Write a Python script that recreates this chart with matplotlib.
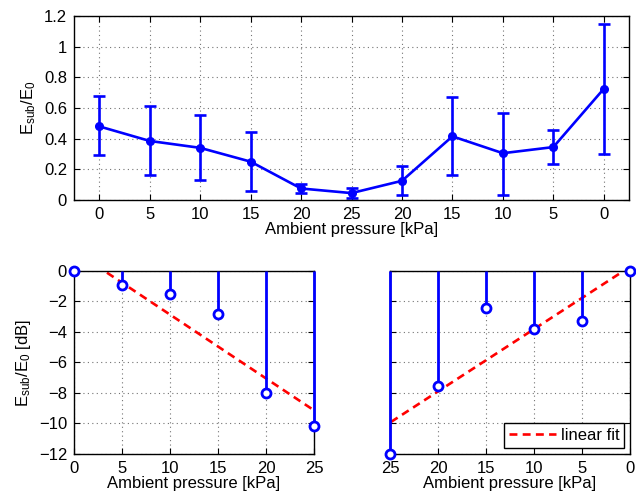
import numpy as np
import matplotlib
matplotlib.use("Agg")
import matplotlib.pyplot as plt

plt.rcParams["font.family"] = ["Liberation Sans", "DejaVu Sans"]
plt.rcParams["mathtext.fontset"] = "custom"
plt.rcParams["mathtext.rm"] = "Liberation Sans"
plt.rcParams["font.size"] = 12

# top panel: pressure sequence down and back up
seq_labels = ["0", "5", "10", "15", "20", "25", "20", "15", "10", "5", "0"]
ratio_mean = [0.48, 0.385, 0.34, 0.25, 0.075, 0.045, 0.125, 0.415, 0.305, 0.345, 0.725]
ratio_hi = [0.675, 0.615, 0.553, 0.443, 0.105, 0.08, 0.22, 0.67, 0.57, 0.455, 1.15]
ratio_lo = [0.295, 0.16, 0.13, 0.06, 0.045, 0.01, 0.03, 0.16, 0.035, 0.235, 0.30]

# bottom panels: dB values
p_down = [0, 5, 10, 15, 20, 25]
db_down = [0, -0.95, -1.5, -2.85, -8.0, -10.15]
p_up = [25, 20, 15, 10, 5, 0]
db_up = [-12.0, -7.55, -2.4, -3.8, -3.25, 0]

BLUE = (0, 0, 1)
RED = (1, 0, 0)

fig = plt.figure(figsize=(6.36, 4.96), dpi=100)
ax_top = fig.add_axes([0.1164, 0.5968, 0.8726, 0.371])
ax_bl = fig.add_axes([0.1164, 0.0847, 0.3774, 0.369])
ax_br = fig.add_axes([0.6132, 0.0847, 0.3774, 0.369])


def style(ax):
    ax.grid(True, linestyle=(0, (1, 3)), color="0.45", linewidth=0.8)
    ax.tick_params(direction="in", length=4, width=0.8, top=True, right=True,
                   colors="black", pad=5)
    for s in ax.spines.values():
        s.set_linewidth(1.0)
    ax.set_axisbelow(True)


# top
xpos = np.arange(1, len(seq_labels) + 1)
mean = np.array(ratio_mean)
yerr = np.vstack([mean - np.array(ratio_lo), np.array(ratio_hi) - mean])
ax_top.errorbar(xpos, mean, yerr=yerr, color=BLUE, lw=1.9, marker="o", ms=5.5,
                capsize=4.5, capthick=1.9, elinewidth=1.9)
ax_top.set_xlim(0.5, 11.5)
ax_top.set_ylim(0, 1.2)
ax_top.set_xticks(xpos)
ax_top.set_xticklabels(seq_labels)
ax_top.set_yticks(np.arange(0, 1.21, 0.2))
ax_top.set_yticklabels(["0", "0.2", "0.4", "0.6", "0.8", "1", "1.2"])
ax_top.set_xlabel("Ambient pressure [kPa]", labelpad=0)
ax_top.set_ylabel(r"$\mathregular{E_{sub}/E_0}$")
style(ax_top)


def stem_panel(ax, x, y):
    ax.vlines(x, 0, y, color=BLUE, lw=2.0, zorder=3, clip_on=False)
    ax.plot(x, y, "o", color=BLUE, mfc="white", mew=2.0, ms=6.5, zorder=4,
            clip_on=False)
    coef = np.polyfit(x, y, 1)
    xf = np.array([0, 25])
    line, = ax.plot(xf, np.polyval(coef, xf), "--", color=RED, lw=1.9,
                    zorder=2, label="linear fit")
    line.set_dashes((3, 2))
    ax.set_xlim(0, 25)
    ax.set_ylim(-12, 0)
    ax.set_xticks(np.arange(0, 26, 5))
    ax.set_yticks(np.arange(-12, 1, 2))
    ax.set_xlabel("Ambient pressure [kPa]", labelpad=0)
    style(ax)


stem_panel(ax_bl, p_down, db_down)
ax_bl.set_ylabel(r"$\mathregular{E_{sub}/E_0}$ [dB]")

stem_panel(ax_br, p_up, db_up)
ax_br.invert_xaxis()
ax_br.set_yticklabels([])
leg = ax_br.legend(loc="lower right", fancybox=False, framealpha=1,
                   edgecolor="black", handlelength=2.8, borderaxespad=0.35,
                   handletextpad=0.3, borderpad=0.3)
leg.get_frame().set_linewidth(1.0)

fig.savefig("out.png", dpi=100)
